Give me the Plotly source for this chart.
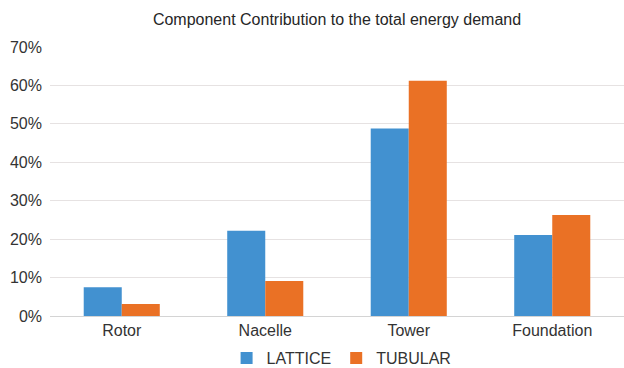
import plotly.graph_objects as go

components = ["Rotor", "Nacelle", "Tower", "Foundation"]
lattice = [0.075, 0.222, 0.488, 0.211]
tubular = [0.031, 0.091, 0.612, 0.263]
y_ticks = [0, 0.1, 0.2, 0.3, 0.4, 0.5, 0.6, 0.7]

fig = go.Figure()
fig.add_trace(go.Bar(name="LATTICE", x=components, y=lattice,
                     marker=dict(color="#4291d0", line=dict(width=0))))
fig.add_trace(go.Bar(name="TUBULAR", x=components, y=tubular,
                     marker=dict(color="#ea7125", line=dict(width=0))))

fig.update_layout(
    width=624, height=368,
    margin=dict(l=50, r=0, t=47, b=52, autoexpand=False),
    paper_bgcolor="white", plot_bgcolor="white",
    barmode="group", bargap=0.47, bargroupgap=0,
    font=dict(family="Liberation Sans, Arial, sans-serif", size=16, color="#333333"),
    title=dict(text="Component Contribution to the total energy demand",
               x=0.5, xref="paper", xanchor="center",
               y=1 - 19 / 368, yref="container", yanchor="middle",
               font=dict(size=16, color="#262626")),
    xaxis=dict(showgrid=False, showline=True, linecolor="#d4d4d4", linewidth=1,
               ticks="", tickfont=dict(size=16, color="#333333")),
    yaxis=dict(range=[0, 0.7], tickvals=y_ticks, tickformat=".0%",
               showgrid=True, gridcolor="#e6e2e2", gridwidth=1,
               zeroline=False, showline=False, ticks="",
               ticklabelstandoff=7,
               tickfont=dict(size=16, color="#333333")),
    legend=dict(orientation="h", x=0.508, xref="paper", xanchor="center",
                y=1 - 358 / 368, yref="container", yanchor="middle",
                font=dict(size=16, color="#333333"),
                traceorder="normal"),
)

fig.write_html("out.html")
